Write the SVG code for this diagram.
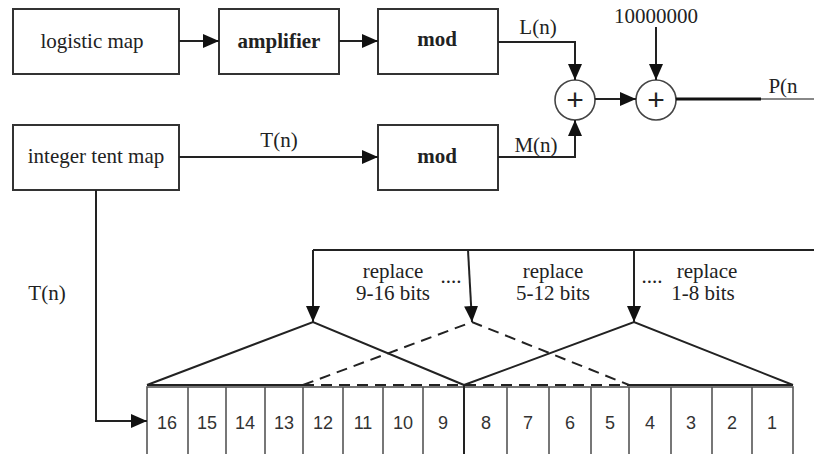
<svg xmlns="http://www.w3.org/2000/svg" width="814" height="454" viewBox="0 0 814 454">
<defs>
<marker id="ah" markerWidth="16" markerHeight="14" refX="16" refY="7" orient="auto" markerUnits="userSpaceOnUse">
<path d="M0,0 L16,7 L0,14 Z" fill="#111"/>
</marker>
<style>
.box{fill:#fff;stroke:#333;stroke-width:2}
.t{font-family:"Liberation Serif","Times New Roman",serif;font-size:21px;fill:#222;text-anchor:middle}
.b{font-weight:bold}
.n{font-family:"Liberation Sans",Arial,sans-serif;font-size:18px;fill:#333;text-anchor:middle}
.ln{fill:none;stroke:#222;stroke-width:2}
.ar{fill:none;stroke:#222;stroke-width:2;marker-end:url(#ah)}
.ds{fill:none;stroke:#222;stroke-width:2;stroke-dasharray:11 7}
.cell{fill:#fff;stroke:#555;stroke-width:1.6}
.circ{fill:#fff;stroke:#444;stroke-width:1.6}
.plus{font-family:"Liberation Sans",Arial,sans-serif;font-size:30px;fill:#222;text-anchor:middle}
</style>
</defs>
<rect width="814" height="454" fill="#fff"/>

<g id="logistic-map">
<rect class="box" x="13" y="9" width="166" height="65"/>
<text class="t" x="92" y="48">logistic map</text>
</g>
<g id="amplifier">
<rect class="box" x="219" y="9" width="120" height="65"/>
<text class="t b" x="279" y="48">amplifier</text>
</g>
<g id="mod1">
<rect class="box" x="378" y="9" width="120" height="65"/>
<text class="t b" x="437" y="46">mod</text>
</g>
<g id="integer-tent-map">
<rect class="box" x="13" y="125" width="166" height="65"/>
<text class="t" x="96" y="163">integer tent map</text>
</g>
<g id="mod2">
<rect class="box" x="378" y="125" width="120" height="65"/>
<text class="t b" x="437" y="163">mod</text>
</g>
<g id="sum1">
<circle class="circ" cx="575" cy="100" r="20"/>
<text class="plus" x="575" y="110">+</text>
</g>
<g id="sum2">
<circle class="circ" cx="656" cy="100" r="20"/>
<text class="plus" x="656" y="110">+</text>
</g>
<g id="constant">
<text class="t" x="656" y="23">10000000</text>
</g>

<g id="register">
<rect class="cell" x="147" y="387" width="646" height="80"/>
<g class="cell">
<line x1="188" y1="387" x2="188" y2="454"/>
<line x1="226" y1="387" x2="226" y2="454"/>
<line x1="265" y1="387" x2="265" y2="454"/>
<line x1="303" y1="387" x2="303" y2="454"/>
<line x1="343" y1="387" x2="343" y2="454"/>
<line x1="383" y1="387" x2="383" y2="454"/>
<line x1="423" y1="387" x2="423" y2="454"/>
<line x1="507" y1="387" x2="507" y2="454"/>
<line x1="549" y1="387" x2="549" y2="454"/>
<line x1="591" y1="387" x2="591" y2="454"/>
<line x1="629" y1="387" x2="629" y2="454"/>
<line x1="671" y1="387" x2="671" y2="454"/>
<line x1="712" y1="387" x2="712" y2="454"/>
<line x1="752" y1="387" x2="752" y2="454"/>
</g>
<line x1="464" y1="385" x2="464" y2="454" stroke="#222" stroke-width="2"/>
<text class="n" x="167" y="429">16</text>
<text class="n" x="207" y="429">15</text>
<text class="n" x="245" y="429">14</text>
<text class="n" x="284" y="429">13</text>
<text class="n" x="323" y="429">12</text>
<text class="n" x="363" y="429">11</text>
<text class="n" x="403" y="429">10</text>
<text class="n" x="443" y="429">9</text>
<text class="n" x="486" y="429">8</text>
<text class="n" x="528" y="429">7</text>
<text class="n" x="570" y="429">6</text>
<text class="n" x="610" y="429">5</text>
<text class="n" x="650" y="429">4</text>
<text class="n" x="691" y="429">3</text>
<text class="n" x="732" y="429">2</text>
<text class="n" x="772" y="429">1</text>
</g>

<g id="replace-labels">
<text class="t" x="393" y="278">replace</text>
<text class="t" x="393" y="300">9-16 bits</text>
<text class="t" x="553" y="278">replace</text>
<text class="t" x="553" y="300">5-12 bits</text>
<text class="t" x="707" y="278">replace</text>
<text class="t" x="703" y="300">1-8 bits</text>
<text class="t" x="451" y="283">....</text>
<text class="t" x="652" y="283">....</text>
</g>

<g id="connectors">
<line class="ar" x1="179" y1="41" x2="219" y2="41"/>
<line class="ar" x1="339" y1="41" x2="378" y2="41"/>
<line class="ar" x1="179" y1="157" x2="378" y2="157"/>
<text class="t" x="279" y="147">T(n)</text>
<polyline class="ar" points="498,42 575,42 575,80"/>
<text class="t" x="538" y="34">L(n)</text>
<polyline class="ar" points="498,157 575,157 575,120"/>
<text class="t" x="536" y="152">M(n)</text>
<line class="ar" x1="595" y1="99" x2="636" y2="99" stroke="#555"/>
<line class="ar" x1="656" y1="27" x2="656" y2="80" stroke="#555"/>
<line x1="676" y1="99" x2="761" y2="99" stroke="#111" stroke-width="3"/>
<line x1="761" y1="99" x2="814" y2="99" stroke="#888" stroke-width="2"/>
<text class="t" x="783" y="93">P(n</text>
<polyline class="ar" points="96,190 96,421 147,421"/>
<text class="t" x="47" y="300">T(n)</text>
<polyline class="ln" points="814,250 313,250"/>
<line class="ar" x1="313" y1="250" x2="313" y2="322"/>
<line class="ar" x1="468" y1="250" x2="472" y2="322"/>
<line class="ar" x1="634" y1="250" x2="634" y2="322"/>
<polyline class="ln" points="147,385 313,322 464,385"/>
<polyline class="ln" points="464,385 634,322 793,385"/>
<line class="ln" x1="147" y1="385" x2="303" y2="385"/>
<line class="ln" x1="629" y1="385" x2="793" y2="385"/>
<polyline class="ds" points="303,385 472,322 629,385"/>
<line class="ds" x1="303" y1="385" x2="629" y2="385"/>
</g>
</svg>
